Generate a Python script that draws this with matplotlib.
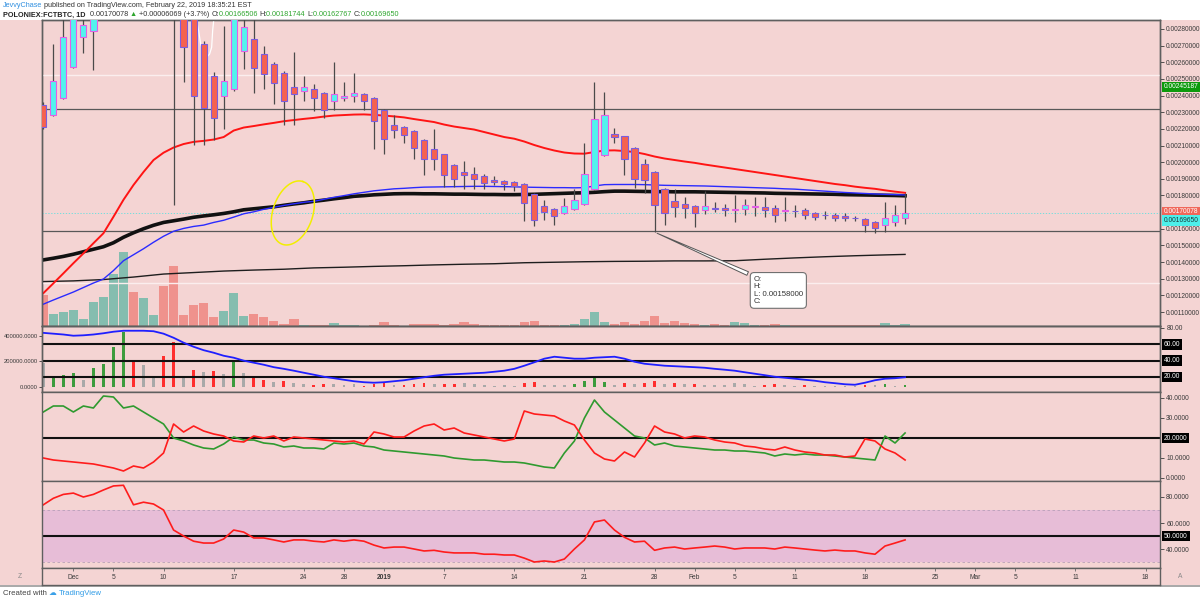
import numpy as np
import pandas as pd
import matplotlib
matplotlib.use("Agg")
import matplotlib.pyplot as plt
import matplotlib.transforms as mtrans
from matplotlib.patches import Rectangle

# ---------------- data ----------------
dates = pd.date_range("2018-11-28", "2019-02-22", freq="D")
day = np.array((dates - pd.Timestamp("2018-12-01")).days)

opens = [.002341, .002281, .002384, .002570, .002754, .002790, .002980, .003200, .003500, .003750,
         .003400, .003550, .003600, .003250, .002950, .002980, .002710, .002520, .002395, .002440,
         .002670, .002740, .002650, .002590, .002536, .002454, .002430, .002440, .002414, .002366,
         .002384, .002396, .002407, .002384, .002311, .002225, .002211, .002187, .002135, .002077,
         .002047, .001985, .001940, .001931, .001916, .001892, .001886, .001880, .001868, .001811,
         .001736, .001718, .001696, .001718, .001746, .001841, .002045, .002169, .002157, .002087,
         .001989, .001941, .001838, .001769, .001748, .001736, .001712, .001724, .001726, .001717,
         .001718, .001734, .001732, .001722, .001708, .001709, .001710, .001696, .001683, .001682,
         .001676, .001665, .001660, .001642, .001622, .001642, .00166506]
highs = [.002360, .002710, .002900, .003000, .002950, .003050, .003300, .003600, .003900, .003800,
         .003650, .003700, .003650, .003300, .003000, .003000, .002730, .002540, .002816, .003000,
         .002900, .002870, .002700, .002600, .002545, .002664, .002520, .002470, .002420, .002600,
         .002480, .002534, .002415, .002390, .002318, .002281, .002218, .002192, .002140, .002201,
         .002052, .001990, .002005, .001971, .001928, .001917, .001892, .001885, .001872, .001815,
         .001772, .001722, .001786, .001841, .002117, .002484, .002420, .002207, .002160, .002090,
         .002021, .001945, .001842, .001841, .001792, .001740, .001826, .001762, .001751, .001805,
         .001781, .001790, .001790, .001742, .001792, .001745, .001722, .001700, .001708, .001696,
         .001692, .001678, .001664, .001646, .001762, .001745, .00181744]
lows = [.002200, .002275, .002380, .002565, .002656, .002554, .002900, .003100, .003400, .003350,
        .003300, .003450, .003150, .001744, .002480, .002101, .002105, .002135, .002197, .002430,
        .002560, .002414, .002437, .002350, .002221, .002224, .002370, .002305, .002265, .002311,
        .002365, .002360, .002314, .002077, .002051, .002145, .002115, .002021, .001922, .001951,
        .001851, .001851, .001841, .001841, .001841, .001865, .001832, .001826, .001646, .001618,
        .001652, .001622, .001690, .001712, .001742, .001835, .002040, .002117, .001922, .001846,
        .001816, .001580, .001622, .001672, .001666, .001612, .001688, .001698, .001678, .001638,
        .001682, .001678, .001672, .001638, .001648, .001672, .001658, .001652, .001658, .001648,
        .001646, .001648, .001582, .001572, .001582, .001618, .00162767]
closes = [.002211, .002490, .002754, .002920, .002823, .002980, .003200, .003500, .003750, .003400,
          .003550, .003600, .003250, .002950, .002690, .002395, .002326, .002266, .002490, .002920,
          .002810, .002564, .002530, .002476, .002370, .002410, .002449, .002386, .002314, .002407,
          .002400, .002418, .002366, .002245, .002141, .002195, .002161, .002085, .002017, .002017,
          .001922, .001901, .001922, .001901, .001875, .001883, .001870, .001857, .001752, .001652,
          .001698, .001676, .001736, .001775, .001931, .002260, .002284, .002151, .002017, .001898,
          .001892, .001742, .001696, .001732, .001726, .001692, .001736, .001722, .001710, .001718,
          .001742, .001735, .001710, .001682, .001709, .001707, .001682, .001672, .001680, .001666,
          .001662, .001663, .001620, .001602, .001662, .001682, .0016965]
volume = [31.3, 12.3, 14.3, 16.3, 7.3, 24, 29, 52.3, 73.7, 34,
          28, 10.7, 40.3, 59.7, 10.7, 20.7, 23, 8.7, 15.3, 33,
          10.3, 12.3, 8.7, 4.7, 2.3, 7, 1.5, 0.8, 0.8, 3,
          0.8, 0.8, 0.5, 1.5, 3.7, 1, 0.5, 2, 2.5, 2,
          1.5, 2, 4, 2, 1, 1, 1, 1, 4, 5.5,
          1.5, 1.5, 1.5, 2, 7, 14.5, 4, 2, 4, 2,
          5, 10, 3, 5, 3, 2.5, 1.5, 2, 1.5, 4.5,
          3.5, 1.5, 1.5, 2, 1.5, 1.5, 1.5, 1, 1, 1,
          1, 1, 1.5, 1.5, 3.5, 1.5, 2.5]

ma_red = [0.001213, 0.001272, 0.001332, 0.001393, 0.001452, 0.001513, 0.001573, 0.001672, 0.001774, 0.001863,
          0.001941, 0.002013, 0.002057, 0.002088, 0.002109, 0.002122, 0.002128, 0.002136, 0.002151, 0.002190,
          0.002208, 0.002217, 0.002227, 0.002236, 0.002246, 0.002253, 0.002260, 0.002266, 0.002274, 0.002280,
          0.002283, 0.002286, 0.002287, 0.002284, 0.002280, 0.002275, 0.002269, 0.002259, 0.002250, 0.002241,
          0.002226, 0.002214, 0.002205, 0.002196, 0.002181, 0.002166, 0.002151, 0.002141, 0.002124, 0.002103,
          0.002085, 0.002070, 0.002058, 0.002052, 0.002051, 0.002061, 0.002070, 0.002071, 0.002067, 0.002061,
          0.002049, 0.002034, 0.002022, 0.002013, 0.002004, 0.001996, 0.001986, 0.001977, 0.001968, 0.001959,
          0.001950, 0.001941, 0.001932, 0.001923, 0.001914, 0.001905, 0.001896, 0.001887, 0.001878, 0.001869,
          0.001862, 0.001853, 0.001846, 0.001840, 0.001831, 0.001823, 0.001816]
ma_blue = [0.001147, 0.001172, 0.001196, 0.00122, 0.001247, 0.001274, 0.001298, 0.001349, 0.001408, 0.001444,
           0.00148, 0.001519, 0.001555, 0.001585, 0.001602, 0.001614, 0.001622, 0.001638, 0.001651, 0.00167,
           0.00169, 0.001702, 0.001717, 0.001729, 0.00174, 0.00175, 0.001759, 0.001765, 0.001777, 0.001789,
           0.001799, 0.00181, 0.001819, 0.001828, 0.001834, 0.00184, 0.001843, 0.001847, 0.00185, 0.001851,
           0.001852, 0.001853, 0.001854, 0.001855, 0.001855, 0.001854, 0.001853, 0.001852, 0.00185, 0.001849,
           0.001848, 0.001847, 0.001847, 0.001846, 0.001847, 0.001857, 0.001865, 0.001866, 0.001866, 0.001866,
           0.001865, 0.001863, 0.001861, 0.00186, 0.001859, 0.001858, 0.001857, 0.001855, 0.001853, 0.001851,
           0.001849, 0.001847, 0.001845, 0.001843, 0.00184, 0.001838, 0.001834, 0.00183, 0.001826, 0.001822,
           0.001818, 0.001815, 0.001812, 0.001809, 0.001807, 0.001805, 0.001803]
ma_black = [0.001413, 0.001423, 0.001434, 0.001447, 0.001462, 0.001477, 0.001492, 0.001516, 0.001549, 0.001576,
            0.0016, 0.001621, 0.001638, 0.001648, 0.001658, 0.001669, 0.001677, 0.001684, 0.001692, 0.001702,
            0.001714, 0.00172, 0.001726, 0.001732, 0.001741, 0.001749, 0.001756, 0.001765, 0.001772, 0.00178,
            0.001787, 0.001795, 0.001799, 0.001804, 0.001807, 0.00181, 0.001811, 0.001811, 0.00181, 0.00181,
            0.001809, 0.001808, 0.001808, 0.001807, 0.001806, 0.001806, 0.001805, 0.001805, 0.001806, 0.001807,
            0.001809, 0.001811, 0.001813, 0.001815, 0.001816, 0.001819, 0.001823, 0.001826, 0.001826, 0.001825,
            0.001824, 0.001823, 0.001823, 0.001822, 0.001822, 0.001822, 0.001821, 0.00182, 0.001819, 0.001818,
            0.001817, 0.001816, 0.001815, 0.001813, 0.001812, 0.001811, 0.00181, 0.001809, 0.001808, 0.001807,
            0.001805, 0.001804, 0.001803, 0.001802, 0.001801, 0.0018, 0.001798]
ma200_days = [-3, 0, 3, 6, 9, 12, 15, 18, 21, 24, 27, 30, 33, 36, 39, 42, 45, 48, 51, 54, 57, 60, 63, 66, 69, 72, 75, 78, 81, 83]
ma200_vals = [0.001283, 0.001287, 0.001295, 0.00131, 0.001328, 0.001337, 0.001346, 0.001352, 0.001357, 0.001365,
              0.001369, 0.001374, 0.001378, 0.001383, 0.001387, 0.00139, 0.001396, 0.001399, 0.001402, 0.001404,
              0.001405, 0.001407, 0.001407, 0.001408, 0.001417, 0.001425, 0.001432, 0.001438, 0.001443, 0.001446]

osc_vals = [186, 81, 94, 107, 55, 151, 178, 316, 434, 198,
            172, 76, 245, 350, 76, 133, 118, 125, 100, 196,
            110, 75, 55, 40, 45, 30, 20, 15, 20, 25,
            15, 20, 10, 25, 30, 15, 15, 25, 30, 20,
            25, 20, 35, 20, 15, 10, 15, 10, 30, 40,
            15, 15, 15, 25, 45, 90, 40, 15, 35, 20,
            30, 50, 25, 30, 20, 20, 15, 15, 15, 30,
            25, 10, 15, 20, 15, 10, 15, 10, 10, 10,
            10, 10, 15, 15, 25, 10, 15]
osc_kind = list("ngggnggggr" "nnrrnrnrng" "nrrnrnnrrn" "nnrrrnrrrn"
                "rrnnnnnnrr" "nnnggggnrn" "rrnrnrnnnn" "nnrrnnrnnn" "nnrngng")
adx = [74, 73, 72, 70.5, 71, 72, 73.5, 75.4, 76.6, 76.6,
       76.6, 76, 73, 68, 62, 57, 52.8, 49.7, 46, 43.6,
       40, 37.5, 35, 32, 30, 27.7, 25.2, 22.8, 20.3, 18.5,
       16.6, 14.8, 13.6, 13, 13.6, 14.8, 16, 17.9, 19.7, 21.5,
       22.8, 23.4, 24, 24.6, 25.2, 26.4, 27.7, 30, 33.8, 38,
       42.4, 44.8, 43.6, 42.4, 42.4, 43.6, 44.2, 44.8, 42.4, 38.7,
       36.2, 35, 33.8, 33.2, 32.6, 32, 31.3, 30, 28.9, 27.7,
       25.8, 24, 22.2, 20.3, 19.1, 17.9, 16.6, 15.4, 13.6, 12.4,
       11.1, 10.5, 13, 16, 17.9, 18.5, 19.7]
di_plus = [33, 36, 36, 33, 36, 35, 41, 40.5, 35, 36,
           33, 30, 27, 20, 18.5, 16.5, 15, 14.5, 17, 20.5,
           19, 19, 17.5, 17, 15.5, 16, 15, 15, 14.5, 17.5,
           17, 17.5, 16, 15.5, 14, 13.5, 13, 12.5, 12, 11.5,
           11, 10, 9.5, 9, 9, 8.5, 8, 8, 7.5, 6.5,
           5.5, 5, 12.5, 18.5, 30, 39, 33, 29, 25, 21,
           20, 16.5, 17.5, 16, 15.5, 15, 14.5, 14, 14, 13.5,
           13.5, 13, 12.5, 11, 12, 11.5, 12, 11.5, 11.5, 11,
           10.5, 10, 9.5, 9, 21, 17.5, 22.5]
di_minus = [10, 9, 8.5, 8, 7.5, 7, 6, 5, 3.5, 6,
            5, 8, 12.5, 27, 23, 26, 23.5, 22, 21, 18.5,
            18, 21, 20, 21, 18.5, 20.5, 20, 19.5, 19, 18.5,
            18, 18.5, 17, 23, 22, 20.5, 20.5, 23.5, 26, 27,
            24, 25, 22.5, 21.5, 20.5, 19.5, 18.5, 19.5, 33.5, 32,
            31.5, 31, 28.5, 26.5, 19, 12.5, 9.5, 8.5, 13, 10.5,
            17.5, 26, 23, 22, 20, 21, 20.5, 19, 18, 17.5,
            16, 15.5, 14.5, 14, 15.5, 14, 13, 12.5, 11.5, 11.5,
            10.5, 11, 19.5, 18.5, 14.5, 12.5, 9]
rsi = [74, 79, 82, 83, 80, 82, 85.4, 88.5, 89, 74,
       76, 74.6, 70, 54.6, 50, 46, 44.6, 44.6, 47.7, 54.6,
       53, 48.5, 48.5, 47, 45.4, 47, 47, 46, 45.4, 47,
       46, 47, 46, 43, 40.8, 41.5, 41.5, 40, 38.5, 39,
       37.7, 37, 37, 37, 36, 36, 35.4, 35.4, 33, 30,
       30.8, 30, 32.3, 40, 47, 60.8, 62.3, 54.6, 49, 45.4,
       46, 39, 40.8, 41.5, 40, 40.8, 41.5, 42.3, 41.5, 40,
       40.8, 40.8, 40.8, 40, 41.5, 40.8, 40, 39.2, 38.5, 39.2,
       38.5, 38.5, 37, 36, 42.3, 44.6, 47]

hlines_main = [0.00232, 0.001585]
whitelines_main = [0.002525, 0.001272]
xlabel_days = [0, 4, 9, 16, 23, 27, 31, 37, 44, 51, 58, 62, 66, 72, 79, 86, 90, 94, 100, 107]
xlabel_txt = ["Dec", "5", "10", "17", "24", "28", "2019", "7", "14", "21", "28", "Feb", "5", "11", "18",
              "25", "Mar", "5", "11", "18"]

# ---------------- style ----------------
FONT = ['Liberation Sans', 'DejaVu Sans']
plt.rcParams['font.family'] = FONT
W, H = 1200, 602
PINK = '#f4d4d3'
SPINE = '#5f5f5f'
CYAN, REDB = '#52f3ee', '#f5624f'
CYAN_E, RED_E = '#e35ee6', '#7a5ee0'
TXT = '#3a3a3a'
FS = 4.8

def fy(p):
    return 1 - p / H

fig = plt.figure(figsize=(12, 6.02), dpi=100)
fig.patch.set_facecolor('white')
fig.patches.append(Rectangle((0, fy(585)), 1, (585 - 20) / H, transform=fig.transFigure,
                             fc=PINK, ec='none', zorder=-5))
fig.add_artist(plt.Line2D([0, 1], [fy(585.5), fy(585.5)], transform=fig.transFigure,
                          color='#9a9a9a', lw=1.2, zorder=-4))

L0, WID = 42 / W, (1160 - 42) / W
XL = (-3.13, 108.44)

def style(a):
    a.set_facecolor(PINK)
    for s in a.spines.values():
        s.set_color(SPINE)
        s.set_linewidth(1.0)
    a.tick_params(axis='both', labelsize=FS, colors=TXT, length=3, width=0.6, pad=1.5)
    a.set_xlim(*XL)
    a.set_xticks([])

def box_label(a, y, text, fc, tc, dy=0):
    tr0 = mtrans.blended_transform_factory(a.transAxes, a.transData)
    if dy:
        tr0 = tr0 + mtrans.ScaledTranslation(0, dy / 100.0, fig.dpi_scale_trans)
    a.text(1.0035, y, text, transform=tr0,
           fontsize=FS, color=tc, va='center', ha='left',
           bbox=dict(boxstyle='square,pad=0.28', fc=fc, ec='none'), clip_on=False, zorder=20)

# ---------------- main panel ----------------
ax = fig.add_axes([L0, fy(326), WID, 306 / H])
style(ax)
axv = ax.twinx()
style(axv)
axv.yaxis.set_visible(False)
ax.yaxis.tick_right()
ax.set_zorder(axv.get_zorder() + 1)
ax.patch.set_visible(False)
axv.patch.set_visible(True)

o, h, l, c = map(np.array, (opens, highs, lows, closes))
up = c >= o
vcol = np.where(up, '#85bdaf', '#ef928d')
axv.bar(day, volume, width=0.94, color=vcol, linewidth=0)
axv.set_ylim(0, max(volume) * 306 / 73.7)
axv.set_xlim(*XL)

ax.set_ylim(0.001016, 0.002854)
for yv in hlines_main:
    ax.axhline(yv, color='#585858', lw=0.9, zorder=1)
for yv in whitelines_main:
    ax.axhline(yv, color='#fbeeee', lw=1.0, zorder=1)
ax.axhline(closes[-1], color='#5ee0e0', lw=0.6, ls=(0, (1.5, 2)), zorder=1)

ax.plot(ma200_days, ma200_vals, color='#1e1e1e', lw=1.0, zorder=2)
ax.plot(day, ma_black, color='#111111', lw=2.6, zorder=2)
ax.plot(day, ma_blue, color='#2b2bff', lw=1.0, zorder=2)
ax.plot(day, ma_red, color='#ff1414', lw=1.4, zorder=2)

mn = 0.0000035
body_lo = np.where(np.abs(c - o) < mn, (o + c) / 2 - mn / 2, np.minimum(o, c))
body_h = np.maximum(np.abs(c - o), mn)
ax.vlines(day, l, h, color='#4a4a4a', lw=0.9, zorder=3)
ax.bar(day, body_h, bottom=body_lo, width=0.62, color=np.where(up, CYAN, REDB),
       edgecolor=np.where(up, CYAN_E, RED_E), linewidth=0.8, zorder=4)

# drawings: white curve, yellow ellipse, callout
wc_d = np.array([12.3, 12.5, 12.7, 13.0, 13.3, 13.6, 13.8, 13.9, 14.0])
wc_p = np.array([0.00285, 0.00279, 0.00271, 0.00266, 0.00263, 0.00265, 0.00269, 0.00279, 0.00285])
ax.plot(wc_d, wc_p, color='white', lw=0.9, zorder=2)

t = np.linspace(0, 2 * np.pi, 120)
ux, uy = 0.307, -0.952
vx, vy = 0.952, 0.307
a_px, b_px = 33, 20
ex = a_px * np.cos(t) * ux + b_px * np.sin(t) * vx
ey = a_px * np.cos(t) * uy + b_px * np.sin(t) * vy
ax.plot(21.9 + ex / 10.02, 0.001695 - ey * 6.007e-6, color='#f2ee00', lw=1.1, zorder=5)

ax.annotate("O:\nH:\nL: 0.00158000\nC:", xy=(58, 0.00158), xytext=(67.9, 0.001316),
            textcoords='data', fontsize=5.6, va='top', ha='left', color='#333333', linespacing=1.05,
            bbox=dict(boxstyle='round,pad=0.45,rounding_size=0.5', fc='white', ec='#707070', lw=0.8),
            arrowprops=dict(arrowstyle='wedge,tail_width=0.5,shrink_factor=0.5', fc='white',
                            ec='#555555', lw=0.7, relpos=(0.03, 0.97)), zorder=6)

pt = [round(0.0011 + 0.0001 * i, 4) for i in range(18)]
pt = [v for v in pt if abs(v - 0.0017) > 1e-9]
ax.set_yticks(pt)
ax.set_yticklabels([f"{v:.8f}" for v in pt])
box_label(ax, 0.00245187, "0.00245187", '#0d9a0d', 'white')
box_label(ax, 0.00170078, "0.00170078", '#f0675a', 'white')
box_label(ax, 0.0016965, "0.00169650", '#4ef0ea', '#1a3a3a', dy=-7.5)

# ---------------- panel 2 ----------------
ax2 = fig.add_axes([L0, fy(392), WID, 66 / H])
style(ax2)
ax2r = ax2.twinx()
style(ax2r)
ocol = {'g': '#3d9c3d', 'r': '#ff2e2e', 'n': '#a9a9a9'}
ax2.bar(day, np.array(osc_vals) * 1000, width=0.28, color=[ocol[k] for k in osc_kind], linewidth=0)
ax2.set_ylim(-39200, 478400)
ax2.yaxis.tick_left()
ax2.tick_params(axis='y', labelsize=4.2, length=2, pad=1)
ax2.set_yticks([0, 200000, 400000])
ax2.set_yticklabels(["0.0000", "200000.0000", "400000.0000"])
ax2r.set_ylim(1.63, 82.4)
for lv in (60, 40, 20):
    ax2r.axhline(lv, color='#111111', lw=1.5)
ax2r.plot(day, adx, color='#1f1fff', lw=1.3)
ax2r.set_yticks([80])
ax2r.set_yticklabels(["80.00"])
for lv in (60, 40, 20):
    box_label(ax2r, lv, f"{lv:.2f}", '#000000', 'white')

# ---------------- panel 3 ----------------
ax3 = fig.add_axes([L0, fy(481), WID, 89 / H])
style(ax3)
ax3.yaxis.tick_right()
ax3.set_ylim(-1.5, 43)
ax3.axhline(20, color='#111111', lw=1.5)
ax3.plot(day, di_plus, color='#2f9a2f', lw=1.2)
ax3.plot(day, di_minus, color='#ff1c1c', lw=1.2)
ax3.set_yticks([0, 10, 30, 40])
ax3.set_yticklabels([f"{v:.4f}" for v in (0, 10, 30, 40)])
box_label(ax3, 20, "20.0000", '#000000', 'white')

# ---------------- panel 4 ----------------
ax4 = fig.add_axes([L0, fy(568), WID, 87 / H])
style(ax4)
ax4.yaxis.tick_right()
ax4.set_ylim(25.4, 92.3)
ax4.axhspan(30, 70, fc='#e7bdd7', ec='none')
ax4.axhline(70, color='#b8a0b8', lw=0.6, ls=(0, (3, 3)))
ax4.axhline(30, color='#b8a0b8', lw=0.6, ls=(0, (3, 3)))
ax4.axhline(50, color='#111111', lw=1.5)
ax4.plot(day, rsi, color='#ff1c1c', lw=1.2)
ax4.set_yticks([40, 60, 80])
ax4.set_yticklabels([f"{v:.4f}" for v in (40, 60, 80)])
box_label(ax4, 50, "50.0000", '#000000', 'white')

# ---------------- time strip ----------------
tax = fig.add_axes([L0, fy(585), WID, 17 / H])
style(tax)
tax.set_yticks([])
tax.set_xticks(xlabel_days)
tax.tick_params(axis='x', direction='in', length=2, top=True, bottom=False, labelbottom=False,
                color='#666666')
tr = mtrans.blended_transform_factory(tax.transData, tax.transAxes)
for dd, s in zip(xlabel_days, xlabel_txt):
    tax.text(dd, 0.42, s, transform=tr, ha='center', va='center', fontsize=FS, color=TXT,
             fontweight='bold' if s == "2019" else 'normal')
fig.text(20 / W, fy(577), "Z", fontsize=FS, color='#888888', ha='center', va='center')
fig.text(1180 / W, fy(577), "A", fontsize=FS, color='#888888', ha='center', va='center')

# ---------------- header / footer ----------------
renderer = fig.canvas.get_renderer()

def seq_text(x_px, y_px, pieces, size):
    x = x_px
    for s, col, wt in pieces:
        tt = fig.text(x / W, fy(y_px), s, color=col, fontsize=size, fontweight=wt, ha='left', va='center')
        x += tt.get_window_extent(renderer=renderer).width

G = '#2ea62e'
seq_text(3, 5.5, [("JevvyChase", '#2f8fe0', 'normal'),
                  (" published on TradingView.com, February 22, 2019 18:35:21 EST", '#333333', 'normal')], 5.2)
seq_text(3, 15, [("POLONIEX:FCTBTC, 1D  ", '#222222', 'bold'), ("0.00170078 ", '#333333', 'normal'),
                 ("\u25b2", G, 'normal'), (" +0.00006069 (+3.7%) ", '#333333', 'normal'),
                 ("O:", '#333333', 'normal'), ("0.00166506 ", G, 'normal'),
                 ("H:", '#333333', 'normal'), ("0.00181744 ", G, 'normal'),
                 ("L:", '#333333', 'normal'), ("0.00162767 ", G, 'normal'),
                 ("C:", '#333333', 'normal'), ("0.00169650", G, 'normal')], 5.2)
seq_text(3, 593.5, [("Created with ", '#444444', 'normal'), ("\u2601 ", '#3aa0e8', 'normal'),
                    ("TradingView", '#2f9be6', 'normal')], 5.6)

fig.savefig("out.png", dpi=100, facecolor='white')
